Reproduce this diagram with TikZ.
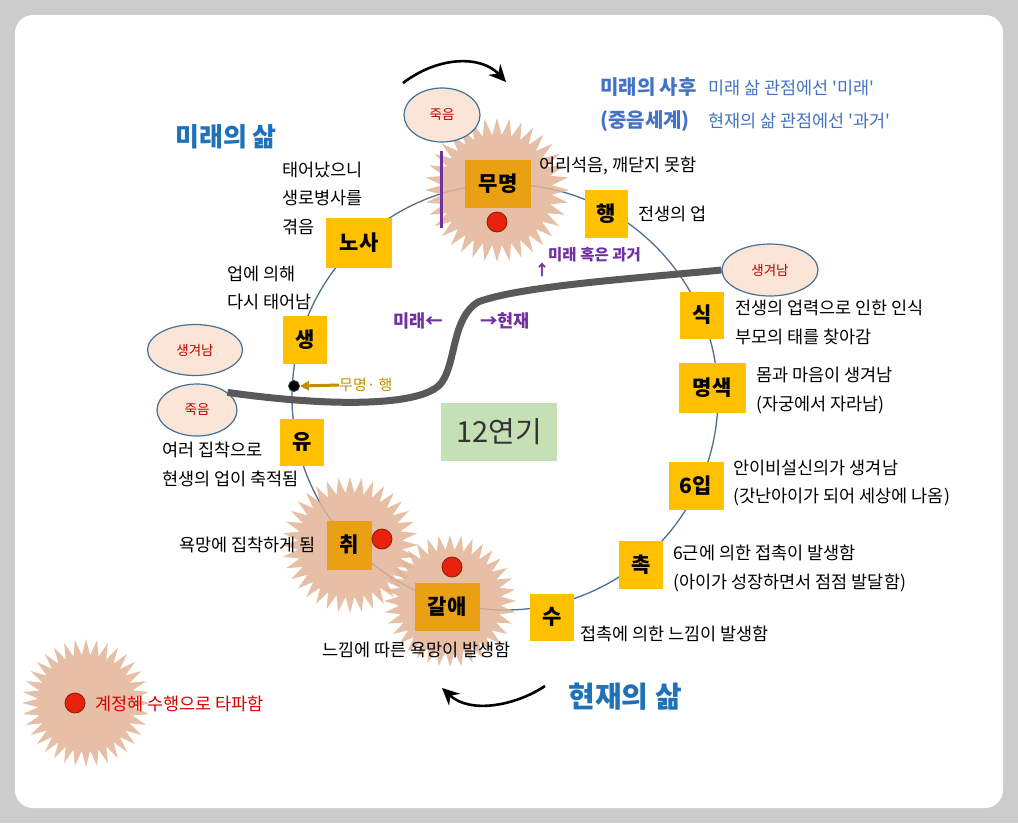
\documentclass[tikz,border=0pt]{standalone}
\usepackage{fontspec}
\setmainfont{Noto Sans CJK KR}
\setmonofont{Noto Sans CJK KR}
\usetikzlibrary{arrows.meta,shapes.geometric}
\definecolor{bgray}{HTML}{CCCCCC}
\definecolor{boxy}{HTML}{FFC000}
\definecolor{boxo}{HTML}{E9A012}
\definecolor{ringc}{HTML}{4F6F8F}
\definecolor{burstc}{HTML}{E2B497}
\definecolor{dotred}{HTML}{E8230C}
\definecolor{dotedge}{HTML}{8E1B0B}
\definecolor{ellfill}{HTML}{FBE5D6}
\definecolor{elledge}{HTML}{41719C}
\definecolor{darkred}{HTML}{C00000}
\definecolor{purp}{HTML}{7030A0}
\definecolor{goldc}{HTML}{BF9000}
\definecolor{titleblue}{HTML}{1F72B8}
\definecolor{noteblue}{HTML}{4472C4}
\definecolor{greenbox}{HTML}{C5E0B4}
\definecolor{thickc}{HTML}{595959}
\newcommand\sq{{\ttfamily\char39}}
\newcommand\burstat[4]{%
  \fill[burst] ({#1+#3},{#2}) \foreach \k in {1,...,71}{ -- ({#1+ifthenelse(isodd(\k),#4,#3)*cos(\k*5)},{#2+ifthenelse(isodd(\k),#4,#3)*sin(\k*5)}) } -- cycle;}
\tikzset{
  stage/.style={fill=boxy, inner sep=0pt, font=\fontsize{21}{24}\selectfont\bfseries},
  stageo/.style={stage, fill=boxo},
  desc/.style={anchor=west, align=left, inner sep=0pt, font=\fontsize{17.5}{28.5}\selectfont},
  burst/.style={fill=burstc, fill opacity=0.85},
  reddot/.style={circle, fill=dotred, draw=dotedge, line width=0.8pt, minimum size=20pt, inner sep=0pt},
  lifeell/.style={ellipse, fill=ellfill, draw=elledge, line width=1.2pt, inner sep=0pt, text=darkred, font=\fontsize{13.5}{16}\selectfont},
  ringline/.style={draw=ringc, line width=1.3pt},
  thickline/.style={draw=thickc, line width=7pt},
  bigarrow/.style={draw=black, line width=2.6pt, -{Stealth[length=17pt,width=16pt]}},
  purptext/.style={text=purp, font=\fontsize{17.5}{20}\selectfont\bfseries, inner sep=0pt},
  title/.style={text=titleblue, font=\fontsize{26}{30}\selectfont\bfseries, inner sep=0pt},
  note/.style={text=noteblue, anchor=west, inner sep=0pt, font=\fontsize{17.5}{20}\selectfont},
  notebold/.style={text=noteblue, anchor=west, inner sep=0pt, font=\fontsize{20}{24}\selectfont\bfseries}
}
\begin{document}
\begin{tikzpicture}[x=1pt,y=-1pt]
% background
\fill[bgray] (0,0) rectangle (1018,823);
\fill[white, rounded corners=18pt] (15,15) rectangle (1003,808);
\useasboundingbox (0,0) rectangle (1018,823);

% ring
\draw[ringline] (505,397) circle[radius=213];

% starbursts
\burstat{497}{190}{72}{55}
\burstat{350}{545}{68}{52}
\burstat{450}{601}{66}{51}
\burstat{86}{703}{64}{48}

% purple marker line
\draw[purp, line width=3pt] (441,151) -- (441,228);

% stages
\node[stageo, minimum width=66pt, minimum height=48pt] (mumyeong) at (498,184) {무명};
\node[stage, minimum width=43pt, minimum height=48pt] (haeng) at (606,214) {행};
\node[stage, minimum width=44pt, minimum height=47pt] (sik) at (702,315) {식};
\node[stage, minimum width=67pt, minimum height=50pt] (myeongsaek) at (712,388) {명색};
\node[stage, minimum width=55pt, minimum height=48pt] (yukip) at (696,486) {6입};
\node[stage, minimum width=44pt, minimum height=48pt] (chok) at (641,565) {촉};
\node[stage, minimum width=44pt, minimum height=47pt] (su) at (552,617) {수};
\node[stageo, minimum width=65pt, minimum height=48pt] (galae) at (447,607) {갈애};
\node[stageo, minimum width=45pt, minimum height=49pt] (chwi) at (349,545) {취};
\node[stage, minimum width=44pt, minimum height=47pt] (yu) at (302,442) {유};
\node[stage, minimum width=44pt, minimum height=48pt] (saeng) at (305,340) {생};
\node[stage, minimum width=66pt, minimum height=50pt] (nosa) at (359,243) {노사};

% red dots
\node[reddot] (r1) at (497,222) {};
\node[reddot] (r2) at (382,539) {};
\node[reddot] (r3) at (452,567) {};
\node[reddot] (r4) at (75,703) {};
\node[anchor=west, inner sep=0pt, text=red!85!black, font=\fontsize{17.5}{20}\selectfont] (r4t) at (95,704) {계정혜 수행으로 타파함};

% ellipses
\node[lifeell, minimum width=76pt, minimum height=54pt] (topDeath) at (442,115) {죽음};
\node[lifeell, minimum width=96pt, minimum height=52pt] (rBorn) at (770,270) {생겨남};
\node[lifeell, minimum width=95pt, minimum height=51pt] (lBorn) at (195,350) {생겨남};
\node[lifeell, minimum width=80pt, minimum height=52pt] (lDeath) at (197,410) {죽음};

% thick boundary line
\draw[thickline] (lDeath.30) .. controls (330,407) and (425,407) .. (442,382)
   .. controls (456,362) and (452,318) .. (478,302)
   .. controls (520,286) and (640,278) .. (rBorn.west);

% dot and gold arrow
\node[circle, fill=black, draw=elledge!60!black, line width=0.8pt, minimum size=11pt, inner sep=0pt] (dot) at (294,386) {};
\node[anchor=west, inner sep=0pt, text=goldc, font=\fontsize{15}{18}\selectfont] (mhtext) at (339,385) {무명· 행};
\draw[goldc, line width=3pt, -{Triangle[length=9pt,width=9pt]}] (mhtext.west) -- (dot.east);

% purple labels
\node[text=purp, inner sep=0pt, font=\fontsize{15}{18}\selectfont\bfseries] (uparr) at (542,270) {↑};
\node[anchor=west, text=purp, inner sep=0pt, font=\fontsize{15.5}{18}\selectfont\bfseries] (mhg) at (548,255) {미래 혹은 과거};
\node[purptext] (future) at (418,321) {미래←};
\node[purptext] (present) at (505,321) {→현재};

% 12 yeongi
\node[fill=greenbox, minimum width=116pt, minimum height=58pt, inner sep=0pt, text=black!80, font=\fontsize{29}{32}\selectfont] (yeongi) at (499,432) {12연기};

% titles
\node[title] (t1) at (226,137) {미래의 삶};
\node[title, font=\fontsize{29}{34}\selectfont\bfseries] (t2) at (625,697) {현재의 삶};
\node[notebold] (n1) at (600,87) {미래의 사후};
\node[notebold] (n2) at (600,121) {(중음세계)};
\node[note] (n3) at (708,88) {미래 삶 관점에선 \sq 미래\sq};
\node[note] (n4) at (708,121) {현재의 삶 관점에선 \sq 과거\sq};

% curved arrows
\coordinate (a1s) at (403,83); \coordinate (a1e) at (506,82);
\draw[bigarrow] (a1s) .. controls (440,55) and (482,56) .. (a1e);
\coordinate (a2s) at (545,686); \coordinate (a2e) at (442,688);
\draw[bigarrow] (a2s) .. controls (515,706) and (470,714) .. (a2e);

% descriptions
\node[desc] (d1) at (539,166) {어리석음, 깨닫지 못함};
\node[desc] (d2) at (638,214) {전생의 업};
\node[desc] (d3) at (282,198) {태어났으니\\생로병사를\\겪음};
\node[desc] (d4) at (227,288) {업에 의해\\다시 태어남};
\node[desc] (d5) at (735,322.5) {전생의 업력으로 인한 인식\\부모의 태를 찾아감};
\node[desc] (d6) at (756,390.5) {몸과 마음이 생겨남\\(자궁에서 자라남)};
\node[desc] (d7) at (733,483) {안이비설신의가 생겨남\\(갓난아이가 되어 세상에 나옴)};
\node[desc] (d8) at (673,568.5) {6근에 의한 접촉이 발생함\\(아이가 성장하면서 점점 발달함)};
\node[desc] (d9) at (580,634) {접촉에 의한 느낌이 발생함};
\node[desc] (d10) at (322,650) {느낌에 따른 욕망이 발생함};
\node[desc, anchor=east] (d11) at (316,545) {욕망에 집착하게 됨};
\node[desc] (d12) at (162,464.5) {여러 집착으로\\현생의 업이 축적됨};
\end{tikzpicture}
\end{document}
